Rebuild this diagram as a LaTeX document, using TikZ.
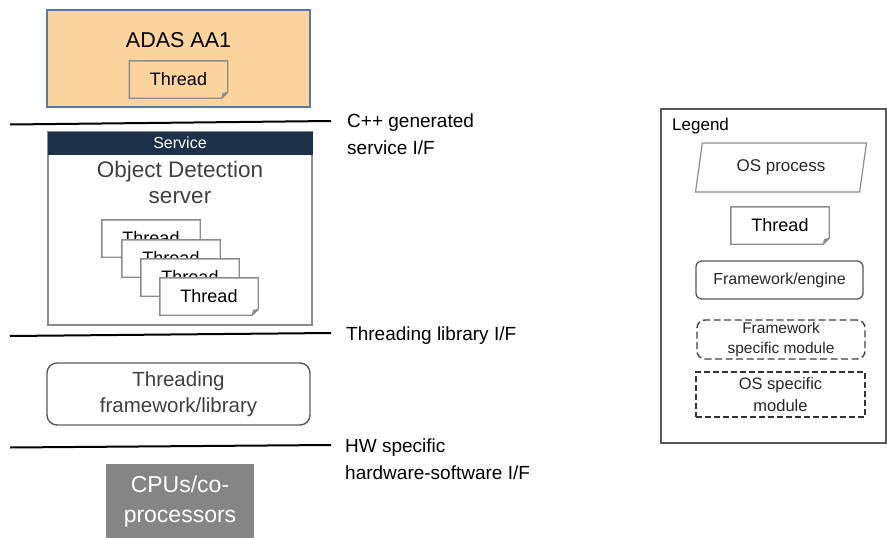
\documentclass[tikz,border=0pt]{standalone}
\usepackage{fontspec}
\setmainfont{Liberation Sans}
\usetikzlibrary{shapes.geometric,positioning}
\definecolor{adasorange}{HTML}{FCD49E}
\definecolor{adasedge}{HTML}{5A78A3}
\definecolor{servicenavy}{HTML}{1C3049}
\definecolor{boxgray}{HTML}{8C8C8C}
\definecolor{edgegray}{HTML}{595959}
\definecolor{textgray}{HTML}{404040}
\definecolor{cpugray}{HTML}{858585}
\tikzset{thread/.style={shape=rectangle, fill=white, minimum width=98pt,
    minimum height=37pt, inner sep=0pt, font=\fontsize{18}{20}\selectfont}}
\tikzset{layer/.style={shape=rectangle, minimum width=263pt, inner sep=0pt}}
\tikzset{sep/.style={draw=black, line width=2pt}}
\tikzset{iflabel/.style={anchor=west, align=left, inner sep=0pt,
    font=\fontsize{19}{27}\selectfont}}
\tikzset{legendbox/.style={minimum width=168pt, inner sep=0pt, align=center,
    text=black!85, font=\fontsize{16}{20}\selectfont}}
\newcommand{\dogear}[1]{%
  \draw[boxgray, line width=1.4pt] (#1.north west) -- (#1.north east) -- ([yshift=6pt]#1.south east)
    -- ([xshift=-6pt]#1.south east) -- (#1.south west) -- cycle;
  \filldraw[boxgray] ([yshift=6pt]#1.south east) -- ([xshift=-6pt]#1.south east)
    -- ([xshift=-5pt,yshift=5pt]#1.south east) -- cycle;}

\begin{document}
\begin{tikzpicture}[x=1pt, y=-1pt]
    \useasboundingbox (0,0) rectangle (887,538);

    % process on top
    \node[layer, fill=adasorange, draw=adasedge, line width=1.2pt,
      minimum height=97pt] (adas) at (178.5,58.5) {};
    \node[font=\fontsize{21.5}{24}\selectfont] (adastitle) at (178.5,40) {ADAS AA1};
    \node[thread, fill=adasorange] (adasthr) at (178.5,79.5) {Thread};
    \dogear{adasthr}

    % service
    \node[layer, draw=boxgray, line width=1.4pt, minimum width=264pt,
      minimum height=193pt] (obj) at (180,228.5) {};
    \node[layer, fill=servicenavy, minimum width=265pt, minimum height=23pt, text=white,
      font=\fontsize{16}{18}\selectfont] (service) at (180,143) {Service};
    \node[align=center, text=textgray, font=\fontsize{22.5}{26}\selectfont] (objtitle)
      at (180,182) {Object Detection\\server};
    \foreach \i/\x/\y in {1/151/238.5, 2/171/258.5, 3/190/277.5, 4/209/296.5} {
      \node[thread] (thr\i) at (\x,\y) {Thread};
      \dogear{thr\i}
    }

    % threading framework
    \node[layer, draw=edgegray, line width=1.4pt, rounded corners=10pt, minimum height=62pt,
      align=center, text=textgray, font=\fontsize{20.5}{26}\selectfont] (threadlib)
      at (178.5,394) {Threading\\framework/library};

    % hardware
    \node[shape=rectangle, fill=cpugray, minimum width=148pt, minimum height=76pt,
      inner sep=0pt, align=center, text=white, font=\fontsize{23}{30}\selectfont]
      (cpu) at (180,502) {CPUs/co-\\processors};

    % interfaces
    \node[iflabel] (if1) at (347,134) {C++ generated\\service I/F};
    \node[iflabel] (if2) at (346,336) {Threading library I/F};
    \node[iflabel] (if3) at (345,459) {HW specific\\hardware-software I/F};
    \coordinate (if1a) at (10,124.5);
    \coordinate (if1b) at (331,121);
    \coordinate (if2a) at (10,336);
    \coordinate (if2b) at (331,333);
    \coordinate (if3a) at (10,447.5);
    \coordinate (if3b) at (331,445);
    \draw[sep] (if1a) -- (if1b);
    \draw[sep] (if2a) -- (if2b);
    \draw[sep] (if3a) -- (if3b);

    % legend
    \node[shape=rectangle, draw=edgegray, line width=1.2pt, minimum width=225pt,
      minimum height=334pt, inner sep=0pt] (legend) at (773.5,276) {};
    \node[anchor=west, inner sep=0pt, font=\fontsize{17}{20}\selectfont] (legendtitle)
      at (672,126) {Legend};
    \node[shape=trapezium, trapezium left angle=76, trapezium right angle=104,
      trapezium stretches=true, draw=boxgray, line width=1.2pt, minimum width=172pt,
      minimum height=49pt, inner sep=0pt, text=black!85, font=\fontsize{17}{20}\selectfont]
      (osproc) at (781,167.5) {OS process};
    \node[thread] (legthr) at (780,225.5) {Thread};
    \dogear{legthr}
    \node[legendbox, draw=edgegray, line width=1.3pt, rounded corners=6pt,
      minimum width=167pt, minimum height=38pt] (fwengine) at (779.5,280) {Framework/engine};
    \node[legendbox, draw=black!75, dash pattern=on 7pt off 3.5pt, line width=1.4pt,
      rounded corners=8pt, minimum height=39pt, font=\fontsize{15.5}{20}\selectfont]
      (fwmodule) at (781,339.5) {Framework\\specific module};
    \node[legendbox, draw=black!80, dash pattern=on 6pt off 3pt, line width=1.4pt,
      minimum width=169pt, minimum height=45pt, font=\fontsize{16.5}{22}\selectfont]
      (osmodule) at (780.5,394.5) {OS specific\\module};
\end{tikzpicture}
\end{document}
